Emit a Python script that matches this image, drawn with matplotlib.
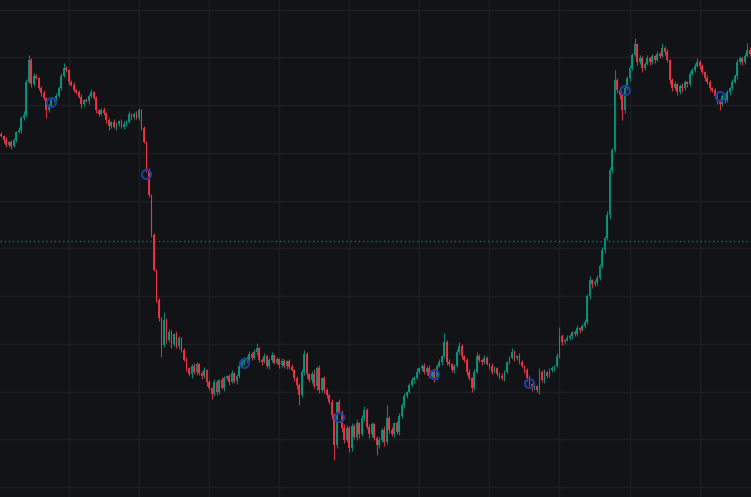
import numpy as np
import matplotlib
matplotlib.use('Agg')
import matplotlib.pyplot as plt

# closing prices, one per candle (left to right)
closes = [
    364, 360, 355, 358, 354, 360, 368, 370, 382, 385,
    418, 440, 416, 424, 422, 412, 407, 402, 390, 394,
    400, 402, 404, 412, 424, 432, 430, 418, 415, 410,
    408, 403, 396, 400, 399, 404, 408, 402, 390, 386,
    390, 387, 380, 374, 378, 373, 376, 379, 373, 376,
    378, 386, 383, 386, 382, 390, 372, 358, 330, 305,
    265, 230, 200, 182, 155, 180, 160, 168, 156, 166,
    154, 162, 150, 140, 132, 126, 134, 128, 136, 127,
    124, 130, 118, 112, 106, 118, 108, 120, 112, 122,
    124, 118, 127, 119, 124, 134, 138, 142, 139, 146,
    142, 148, 152, 140, 138, 144, 134, 140, 145, 137,
    141, 135, 139, 134, 139, 133, 130, 122, 115, 105,
    128, 146, 126, 120, 126, 114, 132, 110, 122, 110,
    105, 98, 85, 55, 98, 88, 72, 60, 72, 52,
    74, 63, 77, 66, 82, 90, 73, 66, 76, 62,
    55, 60, 70, 58, 82, 70, 66, 77, 68, 84,
    95, 104, 108, 115, 120, 122, 128, 132, 134, 128,
    132, 124, 128, 122, 134, 138, 144, 158, 138, 136,
    130, 134, 148, 154, 144, 140, 128, 122, 112, 128,
    144, 140, 138, 142, 136, 134, 128, 132, 126, 124,
    122, 128, 138, 142, 148, 142, 144, 138, 134, 130,
    122, 116, 112, 114, 110, 128, 120, 128, 124, 130,
    132, 134, 144, 164, 158, 160, 162, 164, 168, 166,
    172, 170, 174, 178, 204, 220, 216, 218, 222, 234,
    250, 262, 285, 330, 350, 420, 410, 405, 390, 412,
    422, 432, 445, 456, 438, 442, 432, 436, 442, 438,
    444, 440, 446, 444, 452, 448, 440, 420, 412, 416,
    408, 414, 412, 418, 416, 426, 430, 434, 438, 434,
    428, 422, 418, 412, 410, 404, 400, 396, 404, 400,
    408, 412, 418, 424, 438, 442, 438, 444, 450, 446,
]
first_open = 366

# wick lengths above / below the candle body
wick_up = [
    2, 1, 3, 1, 2, 2, 1, 3, 2, 4,
    3, 5, 2, 3, 2, 1, 2, 3, 1, 2,
    2, 1, 3, 2, 3, 5, 2, 1, 2, 3,
    1, 2, 3, 1, 2, 2, 3, 1, 2, 1,
    2, 3, 1, 2, 1, 3, 2, 1, 2, 3,
    2, 3, 1, 2, 3, 2, 1, 2, 1, 2,
    1, 2, 1, 2, 1, 8, 2, 3, 2, 1,
    3, 2, 1, 2, 3, 1, 2, 3, 2, 1,
    2, 3, 1, 2, 1, 3, 2, 1, 3, 2,
    1, 2, 3, 1, 2, 3, 2, 1, 2, 3,
    2, 3, 5, 1, 2, 3, 1, 2, 3, 1,
    2, 1, 3, 2, 1, 2, 3, 1, 2, 2,
    3, 4, 2, 1, 3, 5, 2, 3, 1, 2,
    2, 1, 3, 2, 0, 3, 2, 4, 3, 2,
    3, 2, 4, 1, 3, 4, 2, 3, 2, 1,
    2, 3, 2, 4, 13, 2, 3, 1, 2, 3,
    2, 3, 1, 2, 3, 2, 4, 1, 2, 3,
    2, 3, 1, 4, 2, 3, 1, 9, 2, 3,
    1, 2, 3, 4, 2, 1, 2, 3, 1, 3,
    4, 2, 1, 3, 2, 1, 3, 2, 1, 2,
    3, 2, 1, 2, 4, 2, 1, 3, 2, 1,
    2, 3, 1, 2, 1, 4, 2, 3, 1, 2,
    2, 1, 3, 9, 2, 1, 3, 2, 1, 2,
    3, 1, 2, 3, 2, 4, 1, 2, 3, 2,
    3, 2, 4, 3, 2, 10, 2, 3, 1, 2,
    2, 3, 2, 6, 1, 3, 2, 2, 3, 1,
    2, 1, 3, 2, 5, 2, 3, 1, 2, 3,
    1, 2, 3, 2, 1, 3, 2, 3, 4, 2,
    2, 1, 3, 2, 1, 2, 3, 1, 2, 3,
    2, 1, 3, 2, 3, 2, 1, 3, 7, 3,
]
wick_dn = [
    1, 3, 2, 2, 3, 1, 2, 1, 3, 2,
    2, 1, 3, 2, 1, 2, 3, 2, 8, 2,
    1, 2, 3, 1, 2, 1, 2, 3, 1, 2,
    2, 1, 4, 2, 1, 3, 2, 1, 3, 2,
    1, 2, 3, 4, 2, 1, 3, 2, 1, 2,
    2, 1, 3, 2, 1, 2, 2, 1, 2, 2,
    2, 1, 2, 3, 12, 2, 3, 2, 4, 2,
    2, 3, 2, 1, 3, 2, 4, 2, 3, 2,
    3, 2, 4, 2, 5, 2, 3, 2, 1, 3,
    2, 3, 1, 2, 3, 2, 1, 3, 2, 1,
    2, 1, 3, 2, 3, 1, 2, 3, 2, 1,
    1, 3, 2, 2, 3, 2, 1, 3, 4, 10,
    2, 3, 4, 2, 3, 2, 4, 3, 2, 3,
    3, 2, 4, 15, 3, 2, 4, 3, 2, 4,
    3, 2, 3, 4, 2, 3, 2, 4, 3, 2,
    10, 3, 2, 4, 2, 3, 2, 3, 2, 3,
    2, 3, 2, 1, 2, 3, 1, 2, 3, 2,
    3, 2, 3, 4, 2, 1, 3, 2, 3, 2,
    2, 3, 1, 2, 3, 2, 3, 2, 4, 2,
    1, 2, 3, 2, 1, 3, 2, 1, 2, 3,
    2, 3, 1, 2, 1, 3, 2, 2, 1, 3,
    3, 2, 3, 2, 2, 4, 2, 3, 2, 1,
    2, 3, 1, 2, 3, 2, 1, 2, 3, 2,
    2, 3, 1, 2, 2, 3, 4, 2, 3, 2,
    2, 3, 2, 4, 3, 2, 3, 4, 10, 3,
    2, 3, 2, 1, 3, 2, 4, 2, 1, 3,
    2, 3, 1, 2, 1, 3, 2, 4, 3, 2,
    3, 2, 4, 2, 3, 2, 1, 2, 1, 3,
    2, 3, 2, 3, 2, 3, 4, 6, 2, 3,
    2, 3, 2, 1, 3, 2, 3, 2, 1, 2,
]

# indicator circles
marker_idx = [20, 58, 97, 135, 173, 211, 249, 287]
marker_val = [398, 326, 137, 83, 126, 117, 410, 404]

ref_level = 259

BG = '#121317'
GRID = '#1d1e24'
UP = '#089981'
DOWN = '#f23645'

closes = np.array(closes, dtype=float)
opens = np.concatenate([[first_open], closes[:-1]])
highs = np.maximum(opens, closes) + np.array(wick_up)
lows = np.minimum(opens, closes) - np.array(wick_dn)
x = np.arange(len(closes))
up = closes >= opens
colors = np.where(up, UP, DOWN)

fig = plt.figure(figsize=(7.51, 4.97), dpi=100, facecolor=BG)
ax = fig.add_axes([0, 0, 1, 1])
ax.set_facecolor(BG)

ax.vlines(x, lows, highs, colors=colors, linewidth=0.8, alpha=0.85, zorder=2)
body_lo = np.minimum(opens, closes)
body_h = np.maximum(np.abs(closes - opens), 0.8)
ax.bar(x, body_h, bottom=body_lo, width=0.72, color=colors, alpha=0.9,
       linewidth=0, zorder=3)

ax.axhline(ref_level, color='#1f6b62', linestyle=(0, (1, 2)), linewidth=1, zorder=1)

ax.plot(marker_idx, marker_val, 'o', markersize=6.5, markerfacecolor='none',
        markeredgecolor='#1c3f9c', markeredgewidth=1.5, zorder=4)

ax.set_xlim(-0.5, len(closes) - 0.5)
ax.set_ylim(3, 500)
ax.set_xticks(np.arange(27, len(closes), 28))
ax.set_yticks(np.arange(13, 500, 47.75))
ax.grid(True, color=GRID, linewidth=1)
ax.set_axisbelow(True)
ax.tick_params(length=0, labelbottom=False, labelleft=False)
for s in ax.spines.values():
    s.set_visible(False)

fig.savefig('out.png', dpi=100, facecolor=BG)
